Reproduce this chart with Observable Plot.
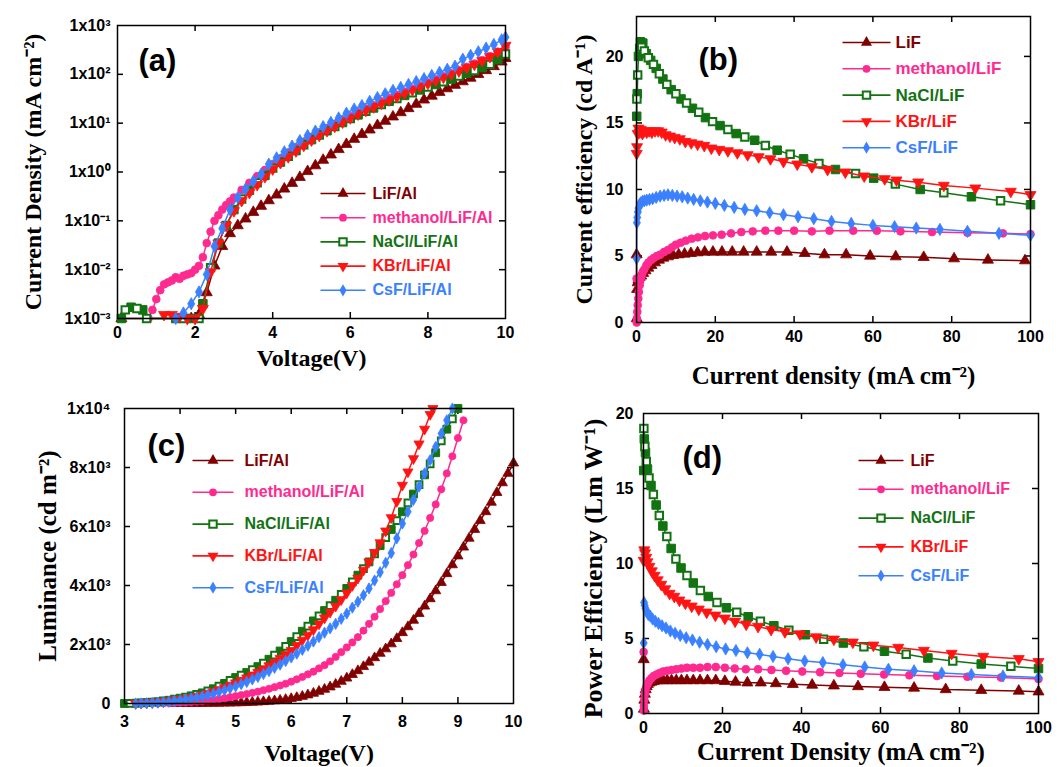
<!DOCTYPE html>
<html><head><meta charset="utf-8">
<script src="https://cdn.jsdelivr.net/npm/d3@7"></script>
<script src="https://cdn.jsdelivr.net/npm/@observablehq/plot@0.6"></script>
<style>
body{margin:0;background:#fff;}
#wrap{position:relative;width:1059px;height:767px;overflow:hidden;background:#fff;}
#wrap svg{position:absolute;overflow:visible;}
</style></head><body><div id="wrap"></div>
<script>
// ---------- names, colors ----------
const namesAC = ["LiF/Al", "methanol/LiF/Al", "NaCl/LiF/Al", "KBr/LiF/Al", "CsF/LiF/Al"];
const namesBD = ["LiF", "methanol/LiF", "NaCl/LiF", "KBr/LiF", "CsF/LiF"];
const colors = ["#800000", "#ff2a8f", "#137313", "#ff1414", "#3a80ff"];

// ---------- (a) current density vs voltage: [V, mA/cm2] ----------
const a_LiF = [[0.1,0.001],[1.9,0.001],[2.1,0.0012],[2.3,0.0034],[2.5,0.012],[2.7,0.03],[2.9,0.055],[3.1,0.08],[3.3,0.11],[3.5,0.15],[3.7,0.2],[3.9,0.26],[4.1,0.34],[4.3,0.45],[4.5,0.59],[4.7,0.78],[4.9,1.03],[5.1,1.35],[5.3,1.75],[5.5,2.25],[5.7,2.9],[5.9,3.7],[6.1,4.7],[6.3,5.9],[6.5,7.3],[6.7,9.0],[6.9,11],[7.1,13.5],[7.3,16.5],[7.5,20],[7.7,24.5],[7.9,30],[8.1,36],[8.3,43],[8.5,51],[8.7,60],[8.9,71],[9.1,84],[9.3,100],[9.5,120],[9.7,145],[9.9,180],[10,213]];
const a_MeOH = [[0.8,0.001],[0.9,0.0015],[1.0,0.0025],[1.1,0.0038],[1.2,0.005],[1.3,0.0055],[1.4,0.006],[1.5,0.007],[1.6,0.0065],[1.7,0.0075],[1.8,0.008],[1.9,0.0085],[2.0,0.01],[2.1,0.012],[2.2,0.018],[2.3,0.035],[2.4,0.06],[2.5,0.1],[2.6,0.13],[2.7,0.17],[2.8,0.21],[2.9,0.25],[3.0,0.3],[3.2,0.43],[3.4,0.6],[3.6,0.82],[3.8,1.1],[4.0,1.45],[4.2,1.9],[4.4,2.5],[4.6,3.2],[4.8,4.1],[5.0,5.2],[5.2,6.4],[5.4,7.8],[5.6,9.5],[5.8,11.6],[6.0,14],[6.2,16.8],[6.4,20],[6.6,23.5],[6.8,28],[7.0,33],[7.2,38],[7.4,44],[7.6,51],[7.8,59],[8.0,68],[8.2,79],[8.4,91],[8.6,105],[8.8,122],[9.0,142],[9.2,166],[9.4,195],[9.6,235],[9.8,290],[10,360]];
const a_NaCl = [[0.1,0.001],[0.2,0.0015],[0.35,0.0017],[0.5,0.0016],[0.65,0.0015],[0.75,0.001],[1.5,0.001],[1.7,0.001],[1.9,0.001],[2.1,0.001],[2.2,0.002],[2.4,0.011],[2.6,0.035],[2.8,0.08],[3.0,0.17],[3.2,0.28],[3.4,0.42],[3.6,0.6],[3.8,0.85],[4.0,1.2],[4.2,1.6],[4.4,2.1],[4.6,2.75],[4.8,3.6],[5.0,4.6],[5.2,5.7],[5.4,7.0],[5.6,8.5],[5.8,10.3],[6.0,12.4],[6.2,14.8],[6.4,17.5],[6.6,20.5],[6.8,24],[7.0,28],[7.2,32],[7.4,37],[7.6,42],[7.8,48],[8.0,55],[8.2,62],[8.4,70],[8.6,80],[8.8,92],[9.0,105],[9.2,120],[9.4,138],[9.6,160],[9.8,200],[10,260]];
const a_KBr = [[1.2,0.0012],[1.4,0.0012],[1.6,0.0011],[1.8,0.001],[2.0,0.001],[2.2,0.0016],[2.4,0.009],[2.6,0.035],[2.8,0.08],[3.0,0.16],[3.2,0.26],[3.4,0.38],[3.6,0.55],[3.8,0.8],[4.0,1.15],[4.2,1.55],[4.4,2.05],[4.6,2.7],[4.8,3.5],[5.0,4.5],[5.2,5.6],[5.4,7.0],[5.6,8.6],[5.8,10.5],[6.0,12.8],[6.2,15.3],[6.4,18.2],[6.6,21.5],[6.8,25.5],[7.0,30],[7.2,35],[7.4,41],[7.6,48],[7.8,56],[8.0,65],[8.2,75],[8.4,87],[8.6,101],[8.8,117],[9.0,137],[9.2,160],[9.4,190],[9.6,230],[9.8,290],[10,390]];
const a_CsF = [[1.5,0.001],[1.7,0.0013],[1.9,0.002],[2.1,0.0035],[2.3,0.008],[2.5,0.03],[2.7,0.07],[2.9,0.17],[3.1,0.3],[3.3,0.45],[3.5,0.65],[3.7,0.9],[3.9,1.45],[4.1,1.95],[4.3,2.6],[4.5,3.4],[4.7,4.4],[4.9,5.6],[5.1,6.9],[5.3,8.5],[5.5,10.4],[5.7,12.8],[5.9,16],[6.1,19.5],[6.3,23],[6.5,28],[6.7,33.5],[6.9,40],[7.1,47],[7.3,54],[7.5,62],[7.7,71],[7.9,82],[8.1,95],[8.3,110],[8.5,127],[8.7,147],[8.9,205],[9.1,245],[9.3,290],[9.5,345],[9.7,410],[9.9,510],[10,575]];

// ---------- (b) current efficiency vs current density: [mA/cm2, cd/A] ----------
const b_LiF = [[0.03,5.1],[0.06,0.3],[0.15,2.5],[0.3,3.0],[0.5,3.2],[0.8,3.4],[1.2,3.5],[1.7,3.7],[2.3,3.9],[3,4.1],[3.8,4.3],[4.7,4.5],[5.7,4.7],[6.8,4.85],[8,4.95],[9.3,5.05],[10.7,5.1],[12.2,5.15],[13.8,5.2],[15.5,5.25],[17.3,5.3],[19.4,5.3],[21.7,5.3],[24.3,5.3],[27.2,5.3],[30.5,5.3],[34.2,5.3],[38.2,5.3],[42.7,5.2],[47.7,5.1],[53.2,5.1],[59.3,5.0],[65.8,4.95],[72.9,4.9],[80.6,4.8],[89.2,4.7],[98.6,4.65]];
const b_MeOH = [[0.02,3.3],[0.05,0.0],[0.1,0.3],[0.2,0.8],[0.3,1.3],[0.45,1.8],[0.6,2.3],[0.8,2.8],[1.0,3.2],[1.3,3.5],[1.6,3.8],[2,4.0],[2.5,4.3],[3,4.5],[3.7,4.7],[4.4,4.85],[5.2,5.0],[6,5.1],[7,5.3],[8,5.45],[9,5.65],[10,5.85],[11.2,6.0],[12.5,6.15],[14,6.3],[15.6,6.4],[17.4,6.5],[19.4,6.55],[21.6,6.6],[24,6.7],[26.6,6.8],[29.5,6.85],[32.7,6.9],[36,6.9],[40,6.9],[44.5,6.85],[49,6.9],[55,6.9],[61,6.9],[67,6.85],[75,6.8],[84,6.75],[93,6.7],[100,6.65]];
const b_NaCl = [[0.05,15.5],[0.1,16.8],[0.2,17.2],[0.3,18.6],[0.5,20.0],[0.8,20.6],[1.0,21.1],[1.3,20.7],[1.6,21.0],[2.0,20.4],[2.5,20.2],[3.0,19.9],[3.6,19.7],[4.3,19.4],[5.0,19.1],[5.8,18.7],[6.7,18.3],[7.7,17.9],[8.8,17.5],[10,17.2],[11.3,16.8],[12.7,16.5],[14.2,16.1],[15.8,15.8],[17.5,15.4],[19.3,15.1],[21.2,14.8],[23.2,14.5],[25.3,14.2],[27.5,13.95],[30,13.7],[32.7,13.3],[35.7,12.95],[39,12.65],[42.4,12.3],[46.3,11.95],[50.5,11.5],[55.6,11.2],[60.2,10.85],[65.7,10.4],[72,10.0],[78,9.75],[85,9.45],[92.4,9.15],[100,8.85]];
const b_KBr = [[0.05,12.7],[0.15,13.2],[0.3,14.2],[0.5,14.6],[0.8,14.3],[1.1,14.5],[1.5,14.2],[2,14.4],[2.6,14.3],[3.2,14.4],[3.9,14.3],[4.7,14.4],[5.5,14.4],[6.4,14.3],[7.4,14.1],[8.5,14.0],[9.7,13.9],[11,13.8],[12.4,13.6],[13.9,13.5],[15.5,13.4],[17.2,13.3],[19,13.1],[21,13.0],[23.2,12.9],[25.6,12.75],[28.2,12.6],[31,12.45],[34,12.3],[37.3,12.1],[40.8,11.9],[44.5,11.7],[48.5,11.5],[53,11.3],[57.8,11.0],[63,10.8],[66,10.7],[71.5,10.55],[78,10.3],[86,10.1],[95,9.85],[100,9.6]];
const b_CsF = [[0.05,4.8],[0.1,7.5],[0.2,7.9],[0.35,8.3],[0.5,8.6],[0.8,8.9],[1.1,9.0],[1.5,9.1],[2,9.15],[2.6,9.2],[3.3,9.25],[4.1,9.3],[5,9.4],[6,9.5],[7,9.55],[8,9.6],[9.1,9.55],[10.3,9.5],[11.6,9.45],[13,9.35],[14.5,9.25],[16.2,9.15],[18,9.05],[20,8.95],[22.3,8.8],[24.8,8.65],[27.5,8.5],[30.5,8.4],[33.8,8.25],[37.3,8.1],[41,7.95],[45,7.8],[49.5,7.6],[54.5,7.45],[60,7.3],[65.5,7.2],[71,7.1],[77,7.0],[84,6.85],[92,6.7],[100,6.55]];

// ---------- (c) luminance vs voltage: [V, cd/m2] ----------
const c_LiF = [[3.9,0],[4.0,0],[4.1,0],[4.2,0],[4.3,0],[4.4,3],[4.5,5],[4.6,8],[4.7,10],[4.8,12],[4.9,15],[5.0,20],[5.1,25],[5.2,32],[5.3,40],[5.4,50],[5.5,60],[5.6,75],[5.7,90],[5.8,110],[5.9,135],[6.0,165],[6.1,200],[6.2,240],[6.3,290],[6.4,345],[6.5,410],[6.6,480],[6.7,560],[6.8,650],[6.9,750],[7.0,860],[7.1,980],[7.2,1110],[7.3,1250],[7.4,1400],[7.5,1550],[7.6,1700],[7.7,1850],[7.8,2020],[7.9,2200],[8.0,2400],[8.1,2600],[8.2,2820],[8.3,3050],[8.4,3300],[8.5,3550],[8.6,3820],[8.7,4100],[8.8,4400],[8.9,4700],[9.0,5000],[9.1,5300],[9.2,5600],[9.3,5900],[9.4,6200],[9.5,6500],[9.6,6820],[9.7,7150],[9.8,7480],[9.9,7800],[10.0,8150]];
const c_MeOH = [[3.6,0],[3.7,5],[3.8,10],[3.9,20],[4.0,30],[4.1,40],[4.2,50],[4.3,65],[4.4,80],[4.5,100],[4.6,125],[4.7,150],[4.8,180],[4.9,215],[5.0,250],[5.1,285],[5.2,320],[5.3,360],[5.4,400],[5.5,450],[5.6,500],[5.7,555],[5.8,610],[5.9,670],[6.0,740],[6.1,820],[6.2,900],[6.3,990],[6.4,1080],[6.5,1190],[6.6,1300],[6.7,1430],[6.8,1580],[6.9,1740],[7.0,1900],[7.1,2070],[7.2,2250],[7.3,2470],[7.4,2700],[7.5,2940],[7.6,3200],[7.7,3470],[7.8,3750],[7.9,4040],[8.0,4350],[8.1,4690],[8.2,5050],[8.3,5440],[8.4,5850],[8.5,6290],[8.6,6750],[8.7,7260],[8.8,7800],[8.9,8380],[9.0,9000],[9.1,9600]];
const c_NaCl = [[3.0,0],[3.1,5],[3.2,10],[3.3,20],[3.4,30],[3.5,45],[3.6,60],[3.7,85],[3.8,110],[3.9,145],[4.0,180],[4.1,220],[4.2,260],[4.3,310],[4.4,360],[4.5,430],[4.6,500],[4.7,590],[4.8,680],[4.9,780],[5.0,880],[5.1,960],[5.2,1050],[5.3,1150],[5.4,1250],[5.5,1370],[5.6,1500],[5.7,1640],[5.8,1780],[5.9,1940],[6.0,2100],[6.1,2270],[6.2,2450],[6.3,2620],[6.4,2800],[6.5,2970],[6.6,3150],[6.7,3320],[6.8,3500],[6.9,3700],[7.0,3900],[7.1,4120],[7.2,4350],[7.3,4570],[7.4,4800],[7.5,5070],[7.6,5350],[7.7,5620],[7.8,5900],[7.9,6200],[8.0,6500],[8.1,6800],[8.2,7100],[8.3,7420],[8.4,7750],[8.5,8120],[8.6,8500],[8.7,8900],[8.8,9300],[8.9,9650],[9.0,10000]];
const c_KBr = [[3.2,0],[3.3,10],[3.4,20],[3.5,35],[3.6,50],[3.7,70],[3.8,90],[3.9,115],[4.0,140],[4.1,170],[4.2,200],[4.3,245],[4.4,290],[4.5,345],[4.6,400],[4.7,470],[4.8,540],[4.9,620],[5.0,700],[5.1,785],[5.2,870],[5.3,965],[5.4,1060],[5.5,1170],[5.6,1280],[5.7,1400],[5.8,1530],[5.9,1660],[6.0,1800],[6.1,1970],[6.2,2150],[6.3,2320],[6.4,2500],[6.5,2700],[6.6,2900],[6.7,3100],[6.8,3300],[6.9,3520],[7.0,3750],[7.1,4000],[7.2,4250],[7.3,4520],[7.4,4800],[7.5,5120],[7.6,5450],[7.7,5850],[7.8,6300],[7.9,6850],[8.0,7400],[8.1,7850],[8.2,8300],[8.3,8800],[8.4,9300],[8.5,9800],[8.55,10000]];
const c_CsF = [[3.2,0],[3.3,5],[3.4,10],[3.5,20],[3.6,30],[3.7,45],[3.8,60],[3.9,85],[4.0,110],[4.1,140],[4.2,170],[4.3,205],[4.4,240],[4.5,285],[4.6,330],[4.7,390],[4.8,450],[4.9,515],[5.0,580],[5.1,655],[5.2,730],[5.3,815],[5.4,900],[5.5,1000],[5.6,1100],[5.7,1210],[5.8,1320],[5.9,1440],[6.0,1560],[6.1,1690],[6.2,1820],[6.3,1960],[6.4,2100],[6.5,2250],[6.6,2400],[6.7,2550],[6.8,2700],[6.9,2870],[7.0,3050],[7.1,3250],[7.2,3450],[7.3,3670],[7.4,3900],[7.5,4170],[7.6,4450],[7.7,4770],[7.8,5100],[7.9,5600],[8.0,6100],[8.1,6500],[8.2,6900],[8.3,7350],[8.4,7800],[8.5,8250],[8.6,8700],[8.7,9150],[8.8,9600],[8.9,10000]];

// ---------- (d) power efficiency vs current density: [mA/cm2, lm/W] ----------
const d_LiF = [[0.05,3.6],[0.1,0.3],[0.2,0.9],[0.35,1.3],[0.55,1.6],[0.8,1.8],[1.1,1.95],[1.5,2.05],[2,2.1],[2.6,2.15],[3.3,2.2],[4.1,2.2],[5,2.2],[6,2.2],[7.1,2.2],[8.3,2.2],[9.6,2.2],[11,2.2],[12.6,2.2],[14.3,2.2],[16.2,2.2],[18.3,2.2],[20.6,2.15],[23.3,2.1],[26.3,2.05],[29.7,2.05],[33.5,2.0],[37.8,1.95],[42.7,1.9],[48.2,1.85],[54.3,1.8],[61,1.75],[68.5,1.7],[76.5,1.6],[85.5,1.55],[95,1.5],[100,1.45]];
const d_MeOH = [[0.03,4.1],[0.06,0.2],[0.1,0.5],[0.2,0.9],[0.35,1.3],[0.55,1.6],[0.8,1.85],[1.1,2.0],[1.5,2.2],[2,2.35],[2.6,2.5],[3.3,2.6],[4.1,2.7],[5,2.8],[6,2.85],[7.1,2.9],[8.3,2.95],[9.6,3.0],[11,3.05],[12.6,3.05],[14.3,3.05],[16.2,3.1],[18.3,3.1],[20.6,3.05],[23.1,3.0],[25.9,2.95],[29,2.95],[32.4,2.9],[36.1,2.85],[40.2,2.8],[44.7,2.75],[49.6,2.7],[55,2.65],[60.9,2.6],[67.3,2.55],[74.3,2.5],[82,2.45],[90.5,2.4],[100,2.3]];
const d_NaCl = [[0.05,16.2],[0.1,19.0],[0.2,18.3],[0.35,17.8],[0.5,17.4],[0.7,16.8],[1.0,16.3],[1.4,15.7],[1.9,15.2],[2.5,14.6],[3.2,13.9],[4,13.2],[4.9,12.5],[5.9,11.8],[7,11.0],[8.2,10.3],[9.5,9.7],[11,9.2],[12.6,8.7],[14.4,8.2],[16.4,7.8],[18.6,7.4],[21,7.05],[23.6,6.75],[26.5,6.45],[29.6,6.15],[33,5.85],[36.8,5.55],[41,5.25],[45.6,4.95],[50.6,4.7],[55.8,4.45],[61,4.15],[66.5,3.95],[72,3.7],[78.3,3.5],[85.5,3.3],[93,3.15],[100,3.0]];
const d_KBr = [[0.05,10.2],[0.2,10.9],[0.4,10.7],[0.7,10.4],[1.0,10.1],[1.5,9.8],[2.1,9.5],[2.8,9.2],[3.6,8.9],[4.5,8.6],[5.5,8.3],[6.6,8.0],[7.8,7.8],[9.1,7.55],[10.6,7.35],[12.2,7.15],[14,6.95],[16,6.75],[18.2,6.55],[20.6,6.35],[23.2,6.15],[26,5.95],[29,5.8],[32.3,5.6],[35.8,5.45],[39.6,5.3],[43.7,5.1],[48.2,4.95],[53,4.75],[58.2,4.55],[64.5,4.4],[71,4.2],[78,4.0],[86,3.8],[95,3.65],[100,3.45]];
const d_CsF = [[0.05,4.7],[0.15,7.4],[0.3,7.2],[0.5,7.0],[0.8,6.8],[1.2,6.6],[1.7,6.5],[2.3,6.3],[3,6.15],[3.8,6.0],[4.7,5.85],[5.7,5.7],[6.8,5.5],[8,5.35],[9.3,5.2],[10.8,5.05],[12.4,4.9],[14.2,4.75],[16.2,4.6],[18.4,4.45],[20.8,4.3],[23.4,4.2],[26.3,4.05],[29.4,3.95],[32.8,3.8],[36.6,3.65],[40.8,3.5],[45.4,3.4],[50.5,3.25],[56,3.1],[62,2.95],[68.5,2.85],[75.5,2.7],[83,2.6],[91,2.5],[100,2.4]];

// ---------- ticks & labels ----------
const aXTicks = [0, 2, 4, 6, 8, 10];
const aYTicks = [1e-3, 1e-2, 1e-1, 1e0, 1e1, 1e2, 1e3];
const aYTickLabels = ["1x10\u207B\u00B3", "1x10\u207B\u00B2", "1x10\u207B\u00B9", "1x10\u2070", "1x10\u00B9", "1x10\u00B2", "1x10\u00B3"];
const bXTicks = [0, 20, 40, 60, 80, 100];
const bYTicks = [0, 5, 10, 15, 20];
const cXTicks = [3, 4, 5, 6, 7, 8, 9, 10];
const cYTicks = [0, 2000, 4000, 6000, 8000, 10000];
const cYTickLabels = ["0", "2x10\u00B3", "4x10\u00B3", "6x10\u00B3", "8x10\u00B3", "1x10\u2074"];
const dXTicks = [0, 20, 40, 60, 80, 100];
const dYTicks = [0, 5, 10, 15, 20];

// ---------- symbols ----------
const sqrt3 = Math.sqrt(3);
const triangleDown = {draw(ctx, size) {
  const y = -Math.sqrt(size / (sqrt3 * 3));
  ctx.moveTo(0, -y * 2); ctx.lineTo(-sqrt3 * y, y); ctx.lineTo(sqrt3 * y, y); ctx.closePath();
}};
const symbols = ["triangle", "circle", "square", triangleDown, "diamond"];
const radii = [4.1, 3.9, 4.8, 4.1, 3.7];

const wrap = document.getElementById("wrap");

function seriesMarks(series, i, k) {
  const c = colors[i], m = [], r = radii[i] * k;
  m.push(Plot.line(series, {x: d => d[0], y: d => d[1], stroke: c, strokeWidth: 1.5}));
  if (i === 2) {
    m.push(Plot.dot(series, {x: d => d[0], y: d => d[1], filter: (d, j) => j % 2 === 0, symbol: "square", r, fill: c, stroke: c, strokeWidth: 1}));
    m.push(Plot.dot(series, {x: d => d[0], y: d => d[1], filter: (d, j) => j % 2 === 1, symbol: "square", r: r - 0.6, fill: "white", stroke: c, strokeWidth: 2}));
  } else {
    m.push(Plot.dot(series, {x: d => d[0], y: d => d[1], symbol: symbols[i], r, fill: c, stroke: c, strokeWidth: 0.8}));
  }
  return m;
}

function drawPanel(cfg) {
  const fw = cfg.width - cfg.ml - cfg.mr, fh = cfg.height - cfg.mt - cfg.mb;
  const X = d3.scaleLinear(cfg.xDomain, [0, fw]);
  const Y = (cfg.yType === "log" ? d3.scaleLog() : d3.scaleLinear()).domain(cfg.yDomain).range([fh, 0]);
  const tk = {stroke: "black", strokeWidth: 1.5};
  const marks = [
    Plot.tickX(cfg.xInner, {x: d => d, insetTop: fh - 6, ...tk}),
    Plot.tickX(cfg.xInner, {x: d => d, insetBottom: fh - 6, ...tk}),
    Plot.tickY(cfg.yInner, {y: d => d, insetRight: fw - 6, ...tk}),
    Plot.tickY(cfg.yInner, {y: d => d, insetLeft: fw - 6, ...tk}),
    Plot.axisX({ticks: cfg.xTicks, tickSize: 0, tickPadding: cfg.xPad, tickFormat: cfg.xFmt || (d => String(d)), label: null}),
    Plot.axisY({ticks: cfg.yTicks, tickSize: 0, tickPadding: cfg.yPad, tickFormat: cfg.yFmt || (d => String(d)), label: null})
  ];
  cfg.series.forEach((s, i) => marks.push(...seriesMarks(s, i, cfg.mk || 1)));
  marks.push(Plot.frame({stroke: "black", strokeWidth: 1.5}));
  // legend
  const L = cfg.leg;
  cfg.names.forEach((name, i) => {
    const py = L.y + i * L.dy;
    const row = {x1: X.invert(L.x), x2: X.invert(L.x + L.len), xm: X.invert(L.x + L.len / 2), xt: X.invert(L.tx), y: Y.invert(py), name};
    marks.push(Plot.link([row], {x1: "x1", x2: "x2", y1: "y", y2: "y", stroke: colors[i], strokeWidth: 1.6}));
    if (i === 2) {
      marks.push(Plot.dot([row], {x: "xm", y: "y", symbol: "square", r: radii[i] - 0.6, fill: "white", stroke: colors[i], strokeWidth: 2}));
    } else {
      marks.push(Plot.dot([row], {x: "xm", y: "y", symbol: symbols[i], r: radii[i], fill: colors[i]}));
    }
    marks.push(Plot.text([row], {x: "xt", y: "y", text: "name", textAnchor: "start", lineAnchor: "middle", fill: colors[i], fontSize: L.fs, fontWeight: "bold", fontFamily: "Liberation Sans, Arial, sans-serif"}));
  });
  // panel letter
  marks.push(Plot.text([cfg.letter], {text: d => d, frameAnchor: "top-left", dx: cfg.letterPos[0], dy: cfg.letterPos[1], textAnchor: "start", lineAnchor: "middle", fontSize: 31, fontWeight: "bold", fontFamily: "Liberation Sans, Arial, sans-serif", fill: "black"}));
  // axis titles
  const tf = {fontFamily: "Liberation Serif, Times New Roman, serif", fontWeight: "bold", fill: "black", textAnchor: "middle", lineAnchor: "middle"};
  marks.push(Plot.text([cfg.xLabel], {text: d => d, frameAnchor: "bottom", dy: cfg.xLabelDy, fontSize: cfg.xLabelFs, ...tf}));
  marks.push(Plot.text([cfg.yLabel], {text: d => d, frameAnchor: "left", dx: cfg.yLabelDx, dy: cfg.yLabelDy || 0, rotate: -90, fontSize: cfg.yLabelFs, ...tf}));

  const svg = Plot.plot({
    width: cfg.width, height: cfg.height,
    marginLeft: cfg.ml, marginRight: cfg.mr, marginTop: cfg.mt, marginBottom: cfg.mb,
    x: {type: "linear", domain: cfg.xDomain},
    y: {type: cfg.yType, domain: cfg.yDomain},
    style: {fontFamily: "Liberation Sans, Arial, sans-serif", fontSize: "16px", fontWeight: "bold", color: "black", background: "transparent", overflow: "visible"},
    marks
  });
  svg.style.left = cfg.left + "px";
  svg.style.top = cfg.top + "px";
  wrap.appendChild(svg);
}

// (a)
drawPanel({
  left: 0, top: 0, width: 530, height: 380, ml: 117, mr: 25, mt: 25, mb: 62,
  xDomain: [0, 10], yType: "log", yDomain: [1e-3, 1e3],
  xTicks: aXTicks, yTicks: aYTicks, xInner: [2, 4, 6, 8], yInner: [1e-2, 1e-1, 1, 10, 100],
  yFmt: d => aYTickLabels[aYTicks.indexOf(d)], xPad: 8, yPad: 7,
  series: [a_LiF, a_MeOH, a_NaCl, a_KBr, a_CsF], names: namesAC,
  leg: {x: 203, len: 45, tx: 255, y: 168, dy: 24.2, fs: 16},
  letter: "(a)", letterPos: [21, 36],
  xLabel: "Voltage(V)", xLabelDy: 40, xLabelFs: 24,
  yLabel: "Current Density (mA cm\u207B\u00B2)", yLabelDx: -84, yLabelFs: 24
});
// (b)
drawPanel({
  left: 530, top: 0, width: 529, height: 390, ml: 106, mr: 29, mt: 16, mb: 68,
  xDomain: [0, 100], yType: "linear", yDomain: [0, 23],
  xTicks: bXTicks, yTicks: bYTicks, xInner: [20, 40, 60, 80], yInner: [5, 10, 15, 20],
  xPad: 8, yPad: 13,
  series: [b_LiF, b_MeOH, b_NaCl, b_KBr, b_CsF], names: namesBD,
  leg: {x: 206, len: 48, tx: 259, y: 26, dy: 26.3, fs: 17},
  letter: "(b)", letterPos: [62, 44],
  xLabel: "Current density (mA cm\u207B\u00B2)", xLabelDy: 53, xLabelFs: 25,
  yLabel: "Current efficiency (cd A\u207B\u00B9)", yLabelDx: -52, yLabelFs: 24
});
// (c)
drawPanel({
  left: 0, top: 380, width: 530, height: 387, ml: 124, mr: 17, mt: 28, mb: 64,
  xDomain: [3, 10], yType: "linear", yDomain: [0, 10000],
  xTicks: cXTicks, yTicks: cYTicks, xInner: [4, 5, 6, 7, 8, 9], yInner: [2000, 4000, 6000, 8000],
  yFmt: d => cYTickLabels[cYTicks.indexOf(d)], xPad: 12, yPad: 14, mk: 0.92,
  series: [c_LiF, c_MeOH, c_NaCl, c_KBr, c_CsF], names: namesAC,
  leg: {x: 68, len: 41, tx: 120, y: 52, dy: 31.8, fs: 16},
  letter: "(c)", letterPos: [23, 38],
  xLabel: "Voltage(V)", xLabelDy: 50, xLabelFs: 24,
  yLabel: "Luminance (cd m\u207B\u00B2)", yLabelDx: -77, yLabelFs: 25
});
// (d)
drawPanel({
  left: 530, top: 380, width: 529, height: 387, ml: 113, mr: 21, mt: 33, mb: 54,
  xDomain: [0, 100], yType: "linear", yDomain: [0, 20],
  xTicks: dXTicks, yTicks: dYTicks, xInner: [20, 40, 60, 80], yInner: [5, 10, 15],
  xPad: 8, yPad: 10,
  series: [d_LiF, d_MeOH, d_NaCl, d_KBr, d_CsF], names: namesBD,
  leg: {x: 215, len: 45, tx: 267, y: 47, dy: 28.8, fs: 16},
  letter: "(d)", letterPos: [39, 45],
  xLabel: "Current Density (mA cm\u207B\u00B2)", xLabelDy: 38, xLabelFs: 25,
  yLabel: "Power Efficiency (Lm W\u207B\u00B9)", yLabelDx: -50, yLabelDy: 5, yLabelFs: 26
});
</script></body></html>
